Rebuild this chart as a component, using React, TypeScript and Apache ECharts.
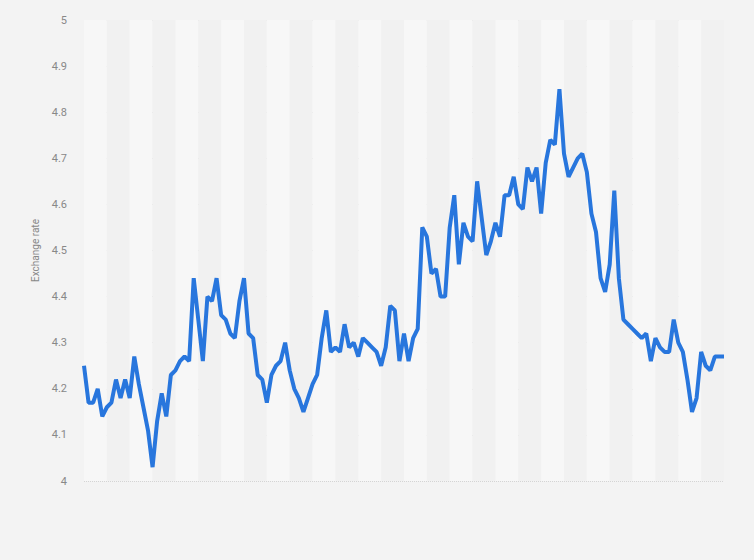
import { useEffect, useRef } from 'react';
import * as echarts from 'echarts';

// monthly exchange rate
const rates = [
  4.25, 4.17, 4.17, 4.2, 4.14, 4.16, 4.17, 4.22, 4.18, 4.22,
  4.18, 4.27, 4.21, 4.16, 4.11, 4.03, 4.13, 4.19, 4.14, 4.23,
  4.24, 4.26, 4.27, 4.26, 4.44, 4.35, 4.26, 4.4, 4.39, 4.44,
  4.36, 4.35, 4.32, 4.31, 4.39, 4.44, 4.32, 4.31, 4.23, 4.22,
  4.17, 4.23, 4.25, 4.26, 4.3, 4.24, 4.2, 4.18, 4.15, 4.18,
  4.21, 4.23, 4.31, 4.37, 4.28, 4.29, 4.28, 4.34, 4.29, 4.3,
  4.27, 4.31, 4.3, 4.29, 4.28, 4.25, 4.29, 4.38, 4.37, 4.26,
  4.32, 4.26, 4.31, 4.33, 4.55, 4.53, 4.45, 4.46, 4.4, 4.4,
  4.55, 4.62, 4.47, 4.56, 4.53, 4.52, 4.65, 4.57, 4.49, 4.52,
  4.56, 4.53, 4.62, 4.62, 4.66, 4.6, 4.59, 4.68, 4.65, 4.68,
  4.58, 4.69, 4.74, 4.73, 4.85, 4.71, 4.66, 4.68, 4.7, 4.71,
  4.67, 4.58, 4.54, 4.44, 4.41, 4.47, 4.63, 4.44, 4.35, 4.34,
  4.33, 4.32, 4.31, 4.32, 4.26, 4.31, 4.29, 4.28, 4.28, 4.35,
  4.3, 4.28, 4.22, 4.15, 4.18, 4.28, 4.25, 4.24, 4.27, 4.27,
  4.27,
];
// one category per month (no labels shown on the chart)
const months = rates.map((_, i) => String(i + 1));

const App = () => {
  const chartDom = useRef<HTMLDivElement>(null);

  useEffect(() => {
    const chart = echarts.init(chartDom.current, null, { renderer: 'svg' });
    chart.setOption({
      animation: false,
      backgroundColor: '#f3f3f3',
      textStyle: { fontFamily: 'Roboto' },
      grid: { left: 84, right: 30, top: 20, bottom: 79 },
      xAxis: {
        type: 'category',
        data: months,
        boundaryGap: false,
        axisLine: { show: false },
        axisTick: { show: false, interval: 4 },
        axisLabel: { show: false, interval: 4 },
        splitLine: { show: false },
        splitArea: {
          show: true,
          interval: 4,
          areaStyle: { color: ['#f7f7f7', '#f1f1f1'] },
        },
      },
      yAxis: {
        type: 'value',
        min: 4,
        max: 5,
        interval: 0.1,
        name: 'Exchange rate',
        nameLocation: 'middle',
        nameGap: 40,
        nameTextStyle: { color: '#888', fontSize: 10 },
        axisLine: { show: false },
        axisTick: { show: false },
        axisLabel: { color: '#888', fontSize: 11, margin: 17 },
        splitLine: { lineStyle: { color: '#d4d4d4', type: 'dotted', width: 1 } },
      },
      series: [
        {
          type: 'line',
          data: rates,
          symbol: 'none',
          lineStyle: { color: '#2876dd', width: 4 },
        },
      ],
    });
    return () => {
      chart.dispose();
    };
  }, []);

  return (
    <div
      ref={chartDom}
      style={{ position: 'absolute', left: 0, top: 0, width: 754, height: 560 }}
    />
  );
};

export default App;
